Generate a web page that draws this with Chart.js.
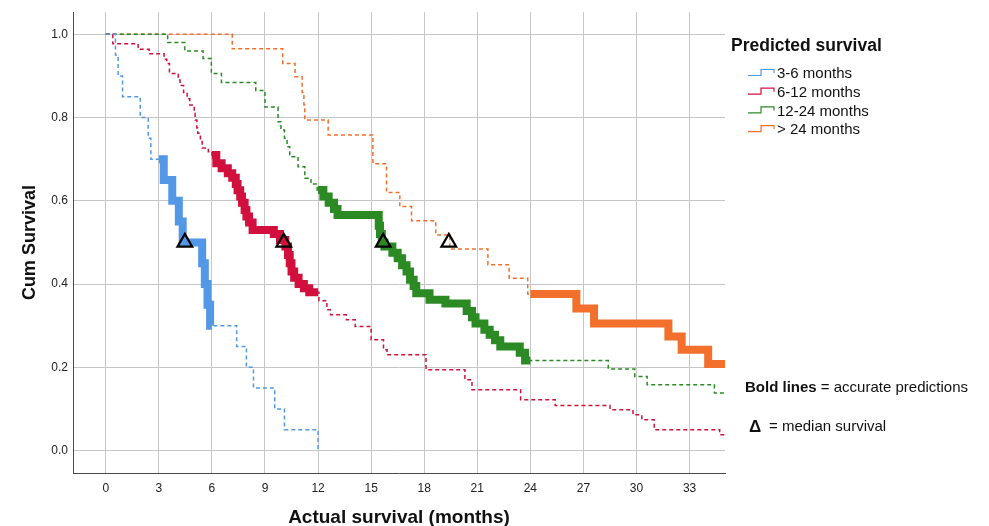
<!DOCTYPE html>
<html><head><meta charset="utf-8">
<script src="https://cdn.jsdelivr.net/npm/chart.js@4/dist/chart.umd.min.js"></script>
<style>html,body{margin:0;padding:0;background:#fff;}canvas{display:block}</style>
</head><body>
<canvas id="c" width="989" height="526"></canvas>
<script>
const FONT = '"Liberation Sans", Arial, Helvetica, sans-serif';
const legendTitle = 'Predicted survival';
const groups = ['3-6 months', '6-12 months', '12-24 months', '> 24 months'];
const colors = ['#5398e6', '#d2103e', '#2b8a24', '#f26f2c'];
const boldFrom = [3, 6, 12, 24];
const boldTo = [6, 12, 24, 35];

const blueT = [0,0.55,0.7,0.95,1.95,2.4,2.55,3.28,3.76,4.13,4.35,5.45,5.6,5.75,5.9,7.4,7.95,8.35,9.55,10.1,12.0];
const blueS = [1.0,0.95,0.90,0.85,0.80,0.75,0.70,0.65,0.60,0.55,0.50,0.45,0.40,0.35,0.30,0.25,0.20,0.15,0.10,0.05,0.0];

const redT = [0,0.4,1.83,2.45,3.3,3.45,3.6,4.1,4.2,4.4,4.6,4.75,5.0,5.05,5.15,5.2,5.35,5.45,5.8,6.0,6.25,6.55,6.9,7.15,7.35,7.45,7.6,7.7,7.85,7.95,8.1,8.3,9.5,9.85,10.15,10.3,10.4,10.5,10.65,10.9,11.2,11.5,12.05,12.5,12.7,13.6,14.1,15.0,15.7,15.9,18.1,20.3,20.7,23.45,25.4,28.5,29.8,30.3,31.0,34.7,35];
const redS = [1.0,0.977,0.964,0.953,0.94,0.93,0.906,0.89,0.877,0.86,0.845,0.83,0.81,0.794,0.775,0.762,0.745,0.727,0.718,0.71,0.69,0.678,0.666,0.655,0.64,0.625,0.61,0.595,0.578,0.562,0.548,0.53,0.52,0.506,0.49,0.47,0.45,0.43,0.415,0.40,0.39,0.38,0.36,0.338,0.326,0.314,0.298,0.266,0.242,0.23,0.194,0.17,0.146,0.122,0.108,0.098,0.086,0.074,0.05,0.038,0.038];

const greenT = [0,3.5,4.47,5.5,5.97,6.54,8.48,9.0,9.74,9.9,10.1,10.25,10.4,10.87,11.25,11.6,11.95,12.3,12.6,12.9,13.1,15.43,15.5,15.6,15.75,16.2,16.5,16.75,17.0,17.2,17.4,17.55,18.3,19.2,20.4,20.7,20.9,21.4,21.7,22.0,22.3,23.4,23.7,28.4,29.9,30.6,34.4,35];
const greenS = [1.0,0.98,0.96,0.942,0.906,0.884,0.865,0.825,0.79,0.77,0.75,0.73,0.706,0.682,0.654,0.64,0.626,0.61,0.595,0.58,0.566,0.54,0.52,0.50,0.49,0.475,0.462,0.445,0.43,0.41,0.395,0.378,0.362,0.353,0.335,0.32,0.305,0.29,0.278,0.265,0.25,0.235,0.216,0.196,0.178,0.158,0.138,0.138];

const orangeT = [0,7.15,10.0,10.7,11.1,11.2,11.25,12.57,15.1,15.87,16.62,17.28,18.65,19.45,21.6,22.8,23.85,26.6,27.6,31.8,32.55,34.05,35];
const orangeS = [1.0,0.965,0.93,0.898,0.86,0.83,0.794,0.758,0.689,0.62,0.586,0.552,0.518,0.484,0.446,0.414,0.376,0.341,0.305,0.274,0.242,0.208,0.208];

const medianT = [4.47, 10.06, 15.68, 19.39];
const medianS = [0.5, 0.5, 0.5, 0.5];

const xTicks = [0,3,6,9,12,15,18,21,24,27,30,33];
const yTicks = [0,0.2,0.4,0.6,0.8,1.0];

const curvesT = [blueT, redT, greenT, orangeT];
const curvesS = [blueS, redS, greenS, orangeS];

function sAt(T, S, t) { let v = S[0]; for (let i = 0; i < T.length; i++) if (T[i] <= t) v = S[i]; return v; }
function pts(T, S) { return T.map((t, i) => ({x: t, y: S[i]})); }
function boldPts(T, S, a, b) {
  const out = [{x: a, y: sAt(T, S, a)}];
  for (let i = 0; i < T.length; i++) if (T[i] > a && T[i] <= b) out.push({x: T[i], y: S[i]});
  if (out[out.length - 1].x < b) out.push({x: b, y: sAt(T, S, b)});
  return out;
}

const datasets = [];
groups.forEach((g, i) => {
  datasets.push({label: g, data: pts(curvesT[i], curvesS[i]), stepped: true, borderColor: colors[i],
    borderWidth: 1.5, borderDash: [4, 3], pointRadius: 0, fill: false, order: 3});
});
groups.forEach((g, i) => {
  datasets.push({label: g + ' bold', data: boldPts(curvesT[i], curvesS[i], boldFrom[i], boldTo[i]), stepped: true,
    borderColor: colors[i], borderWidth: 8, borderCapStyle: 'butt', borderJoinStyle: 'miter', pointRadius: 0, fill: false, order: 2});
});
datasets.push({label: 'median', data: medianT.map((t, i) => ({x: t, y: medianS[i]})), showLine: false,
  pointStyle: 'triangle', pointRadius: 8.5, pointBorderWidth: 2.2, pointBorderColor: '#000',
  pointBackgroundColor: 'rgba(0,0,0,0)', order: 1});

const overlay = {
  id: 'overlay',
  afterDraw(chart) {
    const ctx = chart.ctx;
    ctx.save();
    ctx.textBaseline = 'middle';
    ctx.textAlign = 'left';
    ctx.fillStyle = '#111';
    ctx.font = 'bold 17.5px ' + FONT;
    ctx.fillText(legendTitle, 731, 46);
    ctx.font = '15px ' + FONT;
    groups.forEach((g, i) => {
      const y = 74 + i * 18.7;
      ctx.strokeStyle = colors[i];
      ctx.lineWidth = 1.2;
      ctx.beginPath();
      ctx.moveTo(748, y + 1.5);
      ctx.lineTo(761, y + 1.5);
      ctx.lineTo(761, y - 4.5);
      ctx.lineTo(774, y - 4.5);
      ctx.lineTo(774, y - 1);
      ctx.stroke();
      ctx.fillStyle = '#111';
      ctx.fillText(g, 777, y);
    });
    ctx.font = 'bold 15px ' + FONT;
    const bw = ctx.measureText('Bold lines').width;
    ctx.fillText('Bold lines', 745, 388);
    ctx.font = '15px ' + FONT;
    ctx.fillText(' = accurate predictions', 745 + bw, 388);
    ctx.font = 'bold 17px ' + FONT;
    ctx.fillText('\u0394', 749, 427);
    ctx.font = '15px ' + FONT;
    ctx.fillText('= median survival', 769, 427);
    ctx.restore();
  }
};

new Chart(document.getElementById('c'), {
  type: 'line',
  data: {datasets},
  options: {
    responsive: false, animation: false, devicePixelRatio: 1,
    layout: {padding: {left: 0, top: 12, right: 264, bottom: 0}},
    plugins: {legend: {display: false}, tooltip: {enabled: false}},
    scales: {
      x: {
        type: 'linear', min: -1.85, max: 35,
        afterBuildTicks: s => { s.ticks = xTicks.map(v => ({value: v})); },
        afterFit: s => { s.height = 53; },
        grid: {color: '#c6c6c6', lineWidth: 1, drawTicks: false},
        border: {display: true, color: '#4a4a4a', width: 1},
        ticks: {padding: 8, autoSkip: false, maxRotation: 0, color: '#222', font: {family: FONT, size: 12},
          callback: v => String(v)},
        title: {display: true, text: 'Actual survival (months)', color: '#111',
          font: {family: FONT, size: 19, weight: 'bold', lineHeight: 0.85}, padding: {top: 0, bottom: 0}}
      },
      y: {
        type: 'linear', min: -0.054, max: 1.053,
        afterBuildTicks: s => { s.ticks = yTicks.map(v => ({value: v})); },
        afterFit: s => { s.width = 73; },
        grid: {color: '#c6c6c6', lineWidth: 1, drawTicks: false},
        border: {display: true, color: '#4a4a4a', width: 1},
        ticks: {padding: 5, color: '#222', font: {family: FONT, size: 12}, callback: v => Number(v).toFixed(1)},
        title: {display: true, text: 'Cum Survival', color: '#111',
          font: {family: FONT, size: 18, weight: 'bold'}, padding: {top: 19, bottom: 0}}
      }
    }
  },
  plugins: [overlay]
});
</script>
</body></html>
